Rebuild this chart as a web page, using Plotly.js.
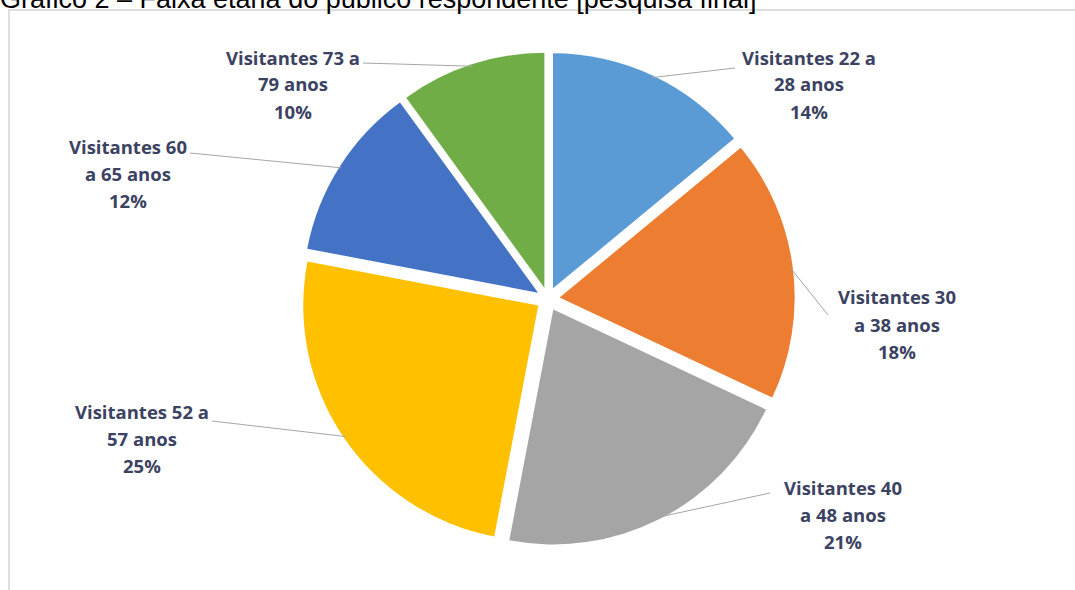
<!DOCTYPE html>
<html>
<head>
<meta charset="utf-8">
<script src="https://cdn.plot.ly/plotly-3.0.1.min.js"></script>
<style>html,body{margin:0;padding:0;background:#fff;}#chart{width:1075px;height:590px;}</style>
</head>
<body>
<div id="chart"></div>
<script>
// ---- data ----
const categories = ["Visitantes 22 a<br>28 anos", "Visitantes 30<br>a 38 anos", "Visitantes 40<br>a 48 anos", "Visitantes 52 a<br>57 anos", "Visitantes 60<br>a 65 anos", "Visitantes 73 a<br>79 anos"];
const values = [14, 18, 21, 25, 12, 10];
const colors = ["#5B9BD5", "#ED7D31", "#A5A5A5", "#FFC000", "#4472C4", "#70AD47"];
const chartTitle = "Gráfico 2 – Faixa etária do público respondente [pesquisa final]";

// ---- layout constants (pixels) ----
const W = 1075, H = 590;
const CX = 548, CY = 299, R = 235, PULL = 0.05;
const labelCenters = [[809, 84], [897, 324], [843, 514], [142, 438], [128, 173], [293, 84]];
const lineEnds = [[735, 68], [828, 315], [770, 493], [212, 421], [190, 153], [363, 63]];
const LINE_GAP = 27;

const px = x => x / W;
const py = y => (H - y) / H;
const outer = R * (1 + PULL);

const total = values.reduce((a, b) => a + b, 0);
const annotations = [];
const shapes = [];

// frame
shapes.push({type: 'rect', xref: 'paper', yref: 'paper', x0: px(9), x1: 1.02, y0: -0.02, y1: py(10),
  line: {color: '#d4d4d4', width: 1.5}, fillcolor: 'rgba(0,0,0,0)', layer: 'below'});

let cum = 0;
values.forEach((v, i) => {
  const mid = (cum + v / 2) / total * 2 * Math.PI;
  cum += v;
  const tipR = outer - 2;
  const tx = CX + tipR * Math.sin(mid);
  const ty = CY - tipR * Math.cos(mid);
  const [ex, ey] = lineEnds[i];
  shapes.push({type: 'line', xref: 'paper', yref: 'paper', x0: px(tx), y0: py(ty), x1: px(ex), y1: py(ey),
    line: {color: '#a6a6a6', width: 1}});
  const lines = categories[i].split('<br>').concat([Math.round(v / total * 100) + '%']);
  const [lx, ly] = labelCenters[i];
  lines.forEach((t, k) => {
    annotations.push({xref: 'paper', yref: 'paper', x: px(lx), y: py(ly + (k - 1) * LINE_GAP),
      xanchor: 'center', yanchor: 'middle', text: t, showarrow: false,
      font: {family: '"Open Sans", Lato, sans-serif', size: 18.5, color: '#3c4262', weight: 'bold'}});
  });
});

annotations.push({xref: 'paper', yref: 'paper', x: 0, y: py(16), xanchor: 'left', yanchor: 'bottom', xshift: -2,
  text: chartTitle, showarrow: false, font: {family: '"Liberation Sans", Arial, sans-serif', size: 27, color: '#000'}});

const trace = {
  type: 'pie',
  labels: categories,
  values: values,
  sort: false,
  direction: 'clockwise',
  rotation: 0,
  pull: PULL,
  marker: {colors: colors, line: {color: '#ffffff', width: 0}},
  textinfo: 'none',
  hoverinfo: 'none',
  showlegend: false,
  domain: {x: [px(CX - outer), px(CX + outer)], y: [py(CY + outer), py(CY - outer)]}
};

const layout = {
  width: W, height: H,
  margin: {l: 0, r: 0, t: 0, b: 0},
  paper_bgcolor: '#ffffff',
  plot_bgcolor: '#ffffff',
  showlegend: false,
  shapes: shapes,
  annotations: annotations
};

Plotly.newPlot('chart', [trace], layout, {displayModeBar: false, staticPlot: true});
</script>
</body>
</html>
